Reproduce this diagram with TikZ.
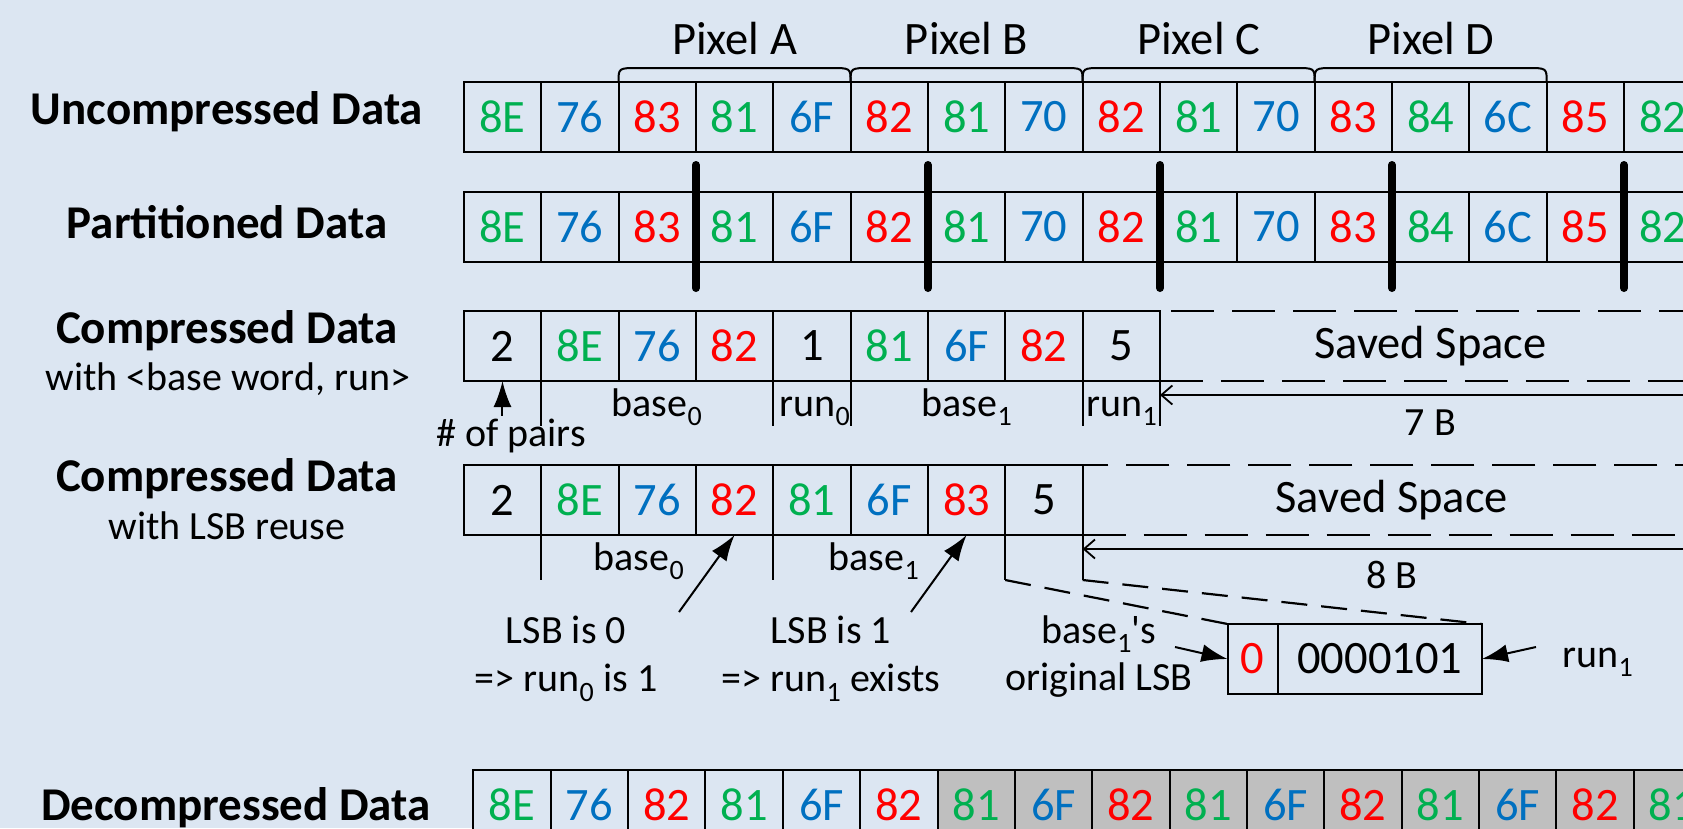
\documentclass[tikz,border=0pt]{standalone}
\usepackage{fontspec}
\setmainfont{Carlito}
\usetikzlibrary{arrows.meta}
\definecolor{bgblue}{RGB}{220,230,242}
\definecolor{grn}{HTML}{00B050}
\definecolor{blu}{HTML}{0070C0}
\definecolor{rd}{HTML}{FF0000}
\definecolor{shade}{HTML}{BFBFBF}

\begin{document}
\begin{tikzpicture}[x=1pt,y=-1pt]
	% the styles
	\tikzset{cell/.style={draw,line width=2pt,minimum width=77.35pt,minimum height=70pt,inner sep=0pt,outer sep=0pt,anchor=north west,font=\fontsize{46.5}{50}\selectfont},
		saved/.style={cell,dash pattern=on 43pt off 18pt},
		title/.style={anchor=base,font=\bfseries\fontsize{47}{50}\selectfont},
		pix/.style={anchor=base,font=\fontsize{46.5}{50}\selectfont},
		sub/.style={anchor=base,font=\fontsize{40}{48}\selectfont},
		tick/.style={line width=2pt},
		bar/.style={line width=8pt,line cap=round},
		dim/.style={line width=2pt,-{Straight Barb[length=11pt,width=19pt,line width=1.8pt]}},
		pointer/.style={line width=2pt,-{Latex[length=26pt,width=18pt]}},
		lead/.style={line width=2.2pt,dash pattern=on 26pt off 14pt}}
	
	% background and page size
	\useasboundingbox (0,0) rectangle (1683,828);
	\fill[bgblue] (0,0) rectangle (1683,828);
	
	% draw row labels
	\node[title] (unc) at (227,124) {Uncompressed Data};
	\node[title] (par) at (227,238.3) {Partitioned Data};
	\node[title] (cmp) at (227,343.3) {Compressed Data};
	\node[sub] (cmpsub) at (228,390) {with <base word, run>};
	\node[title] (lsb) at (227,491.7) {Compressed Data};
	\node[sub] (lsbsub) at (227,539.3) {with LSB reuse};
	\node[title] (dec) at (236,820) {Decompressed Data};
	
	% uncompressed bytes
	\foreach \v/\c [count=\i from 0] in {8E/grn,76/blu,83/rd,81/grn,6F/blu,82/rd,81/grn,70/blu,82/rd,81/grn,70/blu,83/rd,84/grn,6C/blu,85/rd,82/grn} {
		\node[cell,text=\c] (u\i) at (463.8+77.35*\i,82) {\v};
	}
	% pixel braces
	\foreach \a/\b/\n in {2/4/A,5/7/B,8/10/C,11/13/D} {
		\draw[tick] (u\a.north west) .. controls +(0,-14) and +(-20,0) .. ++(20,-14) -- ([xshift=-20pt,yshift=14pt]u\b.north east) .. controls +(20,0) and +(0,-14) .. (u\b.north east);
		\node[pix] (pix\n) at ({463.8+77.35*(\a+1.5)},54.3) {Pixel \n};
	}
	
	% partitioned bytes
	\foreach \v/\c [count=\i from 0] in {8E/grn,76/blu,83/rd,81/grn,6F/blu,82/rd,81/grn,70/blu,82/rd,81/grn,70/blu,83/rd,84/grn,6C/blu,85/rd,82/grn} {
		\node[cell,text=\c] (p\i) at (463.8+77.35*\i,192) {\v};
	}
	\foreach \k in {2,5,8,11,14} {     % partition marks
		\draw[bar] ([yshift=27pt]p\k.north east) -- ([yshift=-26pt]p\k.south east);
	}
	
	% compressed with <base word, run>
	\foreach \v/\c [count=\i from 0] in {2/black,8E/grn,76/blu,82/rd,1/black,81/grn,6F/blu,82/rd,5/black} {
		\node[cell,text=\c] (c\i) at (463.8+77.35*\i,311) {\v};
	}
	\node[saved,minimum width=541pt] (s3) at (c8.north east) {Saved Space};
	\foreach \k in {0,3,4,7,8} {
		\draw[tick] (c\k.south east) -- ++(0,45);
	}
	\node[sub] (b0) at (657,416) {base\textsubscript{0}};
	\node[sub] (r0) at (815,416) {run\textsubscript{0}};
	\node[sub] (b1) at (967,416) {base\textsubscript{1}};
	\node[sub] (r1) at (1122,416) {run\textsubscript{1}};
	\node[sub] (pairs) at (511,446.7) {\# of pairs};
	\draw[pointer] (c0.south |- pairs.north) -- (c0.south);
	\coordinate (e7) at (1690,395);
	\draw[dim] (e7) -- (e7 -| c8.east);
	\node[sub] (seven) at (1430.5,435) {7 B};
	
	% compressed with LSB reuse
	\foreach \v/\c [count=\i from 0] in {2/black,8E/grn,76/blu,82/rd,81/grn,6F/blu,83/rd,5/black} {
		\node[cell,text=\c] (l\i) at (463.8+77.35*\i,465) {\v};
	}
	\node[saved,minimum width=618.4pt] (s4) at (l7.north east) {Saved Space};
	\foreach \k in {0,3} {
		\draw[tick] (l\k.south east) -- ++(0,45);
	}
	\foreach \k in {6,7} {
		\draw[tick] (l\k.south east) -- ++(0,45) coordinate (k\k);
	}
	\node[sub] (lb0) at (639,570) {base\textsubscript{0}};
	\node[sub] (lb1) at (874,570) {base\textsubscript{1}};
	\coordinate (e8) at (1690,549);
	\draw[dim] (e8) -- (e8 -| l7.east);
	\node[sub] (eight) at (1392,588) {8 B};
	
	% the run byte
	\node[cell,minimum width=50.2pt,text=rd] (sb0) at (1227.5,624) {0};
	\node[cell,minimum width=204.3pt] (sb1) at (sb0.north east) {0000101};
	\draw[lead] (k6) -- (sb0.north west);
	\draw[lead] (k7) -- (sb1.north east);
	
	% notes
	\node[sub] (n0a) at (566,643.3) {LSB is 0};
	\node[sub] (n0b) at (566,691.7) {=> run\textsubscript{0} is 1};
	\node[sub] (n1a) at (831,643.3) {LSB is 1};
	\node[sub] (n1b) at (831,691.7) {=> run\textsubscript{1} exists};
	\node[sub] (n2a) at (1099,643.3) {base\textsubscript{1}\textquotesingle s};
	\node[sub] (n2b) at (1099,690) {original LSB};
	\node[sub] (nr) at (1598,667) {run\textsubscript{1}};
	\coordinate (t0) at (679,612);
	\coordinate (t1) at (911,612);
	\coordinate (t2) at (1175,647);
	\coordinate (t3) at (1536,647);
	\draw[pointer] (t0) -- (l3.south);
	\draw[pointer] (t1) -- (l6.south);
	\draw[pointer] (t2) -- (sb0.west);
	\draw[pointer] (t3) -- (sb1.east);
	
	% decompressed bytes
	\foreach \v/\c/\f [count=\i from 0] in {8E/grn/bgblue,76/blu/bgblue,82/rd/bgblue,81/grn/bgblue,6F/blu/bgblue,82/rd/bgblue,81/grn/shade,6F/blu/shade,82/rd/shade,81/grn/shade,6F/blu/shade,82/rd/shade,81/grn/shade,6F/blu/shade,82/rd/shade,81/grn/shade} {
		\node[cell,text=\c,fill=\f] (d\i) at (473.4+77.35*\i,770) {\v};
	}
\end{tikzpicture}
\end{document}
